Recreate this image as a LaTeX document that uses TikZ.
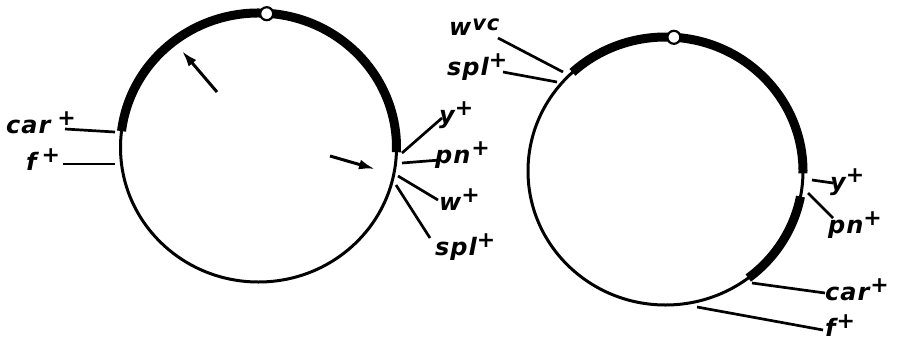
\documentclass[tikz,border=0pt]{standalone}
\usepackage{fontspec}
\setmainfont{DejaVu Sans}
\newfontfamily\labfont[LetterSpace=4.0]{DejaVu Sans}
\usetikzlibrary{arrows.meta}
\newcommand\gl[3][2pt]{#2\kern#1\raisebox{8pt}{\fontsize{22}{22}\selectfont #3}}
\begin{document}
\begin{tikzpicture}[x=1pt,y=-1pt,
  circ/.style={line width=3pt},
  heavy/.style={line width=9pt},
  lead/.style={line width=2.7pt},
  lab/.style={anchor=base west, inner sep=0pt, font=\labfont\bfseries\itshape\fontsize{24}{24}\selectfont},
  ptr/.style={line width=3pt, -{Latex[length=16pt,width=10pt]}},
  origin/.style={circle, draw, fill=white, line width=2.2pt, minimum size=13pt, inner sep=0pt}]
\useasboundingbox (0,0) rectangle (900,346);

% ---------- left ring ----------
\coordinate (L) at (258.5,147.5);
\draw[circ] (L) ellipse [x radius=138, y radius=134.5];
\draw[heavy] (L) ++(-173:138 and 134.5) arc[start angle=-173, end angle=2, x radius=138, y radius=134.5];
\node[origin] (Lo) at (266.7,13.7) {};

\coordinate (La1) at (217,92);  \coordinate (La2) at (182,51);
\coordinate (Lb1) at (330,156); \coordinate (Lb2) at (375,169);
\draw[ptr] (La1) -- (La2);
\draw[ptr] (Lb1) -- (Lb2);

\node[lab] (Lcar) at (6,133) {\gl[7pt]{car}{+}};
\node[lab] (Lf)   at (26,170) {\gl[5pt]{f}{+}};
\node[lab] (Ly)   at (439,123) {\gl[0pt]{y}{+}};
\node[lab] (Lpn)  at (435,163) {\gl[1pt]{pn}{+}};
\node[lab] (Lw)   at (439,210) {\gl[0pt]{w}{+}};
\node[lab] (Lspl) at (435,255) {\gl[0pt]{spl}{+}};

\coordinate (Lc1) at (65,129);  \coordinate (Lc2) at (115,132);
\coordinate (Lf1) at (63,164);  \coordinate (Lf2) at (115,164);
\coordinate (Ly1) at (402,153); \coordinate (Ly2) at (442,118);
\coordinate (Lp1) at (402,163); \coordinate (Lp2) at (440,160);
\coordinate (Lw1) at (398,176); \coordinate (Lw2) at (438,200);
\coordinate (Ls1) at (396,185); \coordinate (Ls2) at (430,238);
\draw[lead] (Lc1) -- (Lc2);
\draw[lead] (Lf1) -- (Lf2);
\draw[lead] (Ly1) -- (Ly2);
\draw[lead] (Lp1) -- (Lp2);
\draw[lead] (Lw1) -- (Lw2);
\draw[lead] (Ls1) -- (Ls2);

% ---------- right ring ----------
\coordinate (R) at (665.5,171);
\draw[circ] (R) ellipse [x radius=137.5, y radius=134];
\draw[heavy] (R) ++(-132.6:137.5 and 134) arc[start angle=-132.6, end angle=1, x radius=137.5, y radius=134];
\draw[heavy] (R) ++(11:137.5 and 134) arc[start angle=11, end angle=53, x radius=137.5, y radius=134];
\node[origin] (Ro) at (673.9,37.3) {};

\node[lab] (Rw)   at (449,35)  {w\kern1pt\raisebox{5pt}{\fontsize{21}{21}\selectfont vc}};
\node[lab] (Rspl) at (447,75)  {\gl[0pt]{spl}{+}};
\node[lab] (Ry)   at (830,190) {\gl[0pt]{y}{+}};
\node[lab] (Rpn)  at (828,233) {\gl[0pt]{pn}{+}};
\node[lab] (Rcar) at (825,300) {\gl[1pt]{car}{+}};
\node[lab] (Rf)   at (825,336) {\gl[1pt]{f}{+}};

\coordinate (Rw1) at (498,38);  \coordinate (Rw2) at (563,72);
\coordinate (Rs1) at (503,72);  \coordinate (Rs2) at (557,82);
\coordinate (Ry1) at (812,180); \coordinate (Ry2) at (833,183);
\coordinate (Rp1) at (808,193); \coordinate (Rp2) at (833,218);
\coordinate (Rc1) at (752,283); \coordinate (Rc2) at (825,293);
\coordinate (Rf1) at (697,307); \coordinate (Rf2) at (823,330);
\draw[lead] (Rw1) -- (Rw2);
\draw[lead] (Rs1) -- (Rs2);
\draw[lead] (Ry1) -- (Ry2);
\draw[lead] (Rp1) -- (Rp2);
\draw[lead] (Rc1) -- (Rc2);
\draw[lead] (Rf1) -- (Rf2);
\end{tikzpicture}
\end{document}
